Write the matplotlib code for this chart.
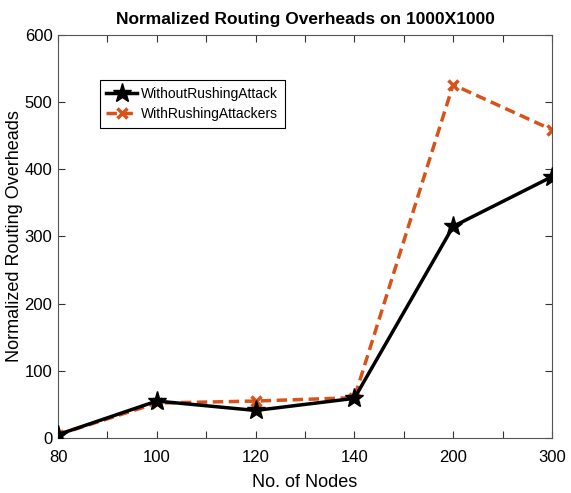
import matplotlib
matplotlib.use("Agg")
import matplotlib.pyplot as plt

plt.rcParams['font.family'] = ['Liberation Sans', 'DejaVu Sans']

nodes = ["80", "100", "120", "140", "200", "300"]
without_rushing = [5, 55, 41, 59, 315, 389]
with_rushing = [5, 52, 55, 60, 526, 459]

fig = plt.figure(figsize=(5.71, 4.93), dpi=100)
ax = fig.add_axes([0.1016, 0.1116, 0.865, 0.8174])
x = list(range(len(nodes)))
ax.plot(x, without_rushing, color='black', lw=2.5, marker='*', ms=14,
        label='WithoutRushingAttack', zorder=3)
ax.plot(x, with_rushing, color='#D95319', lw=2.5, ls=(0, (3, 1.6)), marker='x', ms=7,
        mew=2.5, label='WithRushingAttackers', zorder=2)
ax.set_xlim(0, 5)
ax.set_ylim(0, 600)
ax.set_xticks(x)
ax.set_xticklabels(nodes)
ax.set_xticks([i + 0.5 for i in range(5)], minor=True)
ax.set_yticks(range(0, 601, 100))
ax.tick_params(which='both', direction='in', top=True, right=True, labelsize=12,
               color='#333333', length=5, width=0.8)
ax.tick_params(axis='x', which='major', pad=9)
ax.tick_params(axis='y', which='major', pad=4)
for s in ax.spines.values():
    s.set_color('#555555')
    s.set_linewidth(0.8)
ax.set_xlabel('No. of Nodes', fontsize=13, labelpad=6)
ax.set_ylabel('Normalized Routing Overheads', fontsize=13, labelpad=1)
ax.set_title('Normalized Routing Overheads on 1000X1000', fontsize=12.5, fontweight='bold', pad=8)
leg = ax.legend(loc='upper left', bbox_to_anchor=(0.07, 0.905), fontsize=10,
                fancybox=False, edgecolor='black', framealpha=1,
                handlelength=2.2, handletextpad=0.3, borderpad=0.5, labelspacing=0.4)
leg.get_frame().set_linewidth(0.8)
fig.savefig('out.png', dpi=100)
